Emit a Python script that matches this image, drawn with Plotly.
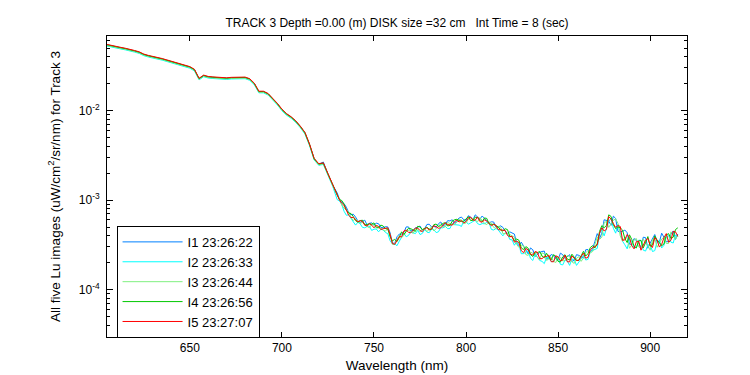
import plotly.graph_objects as go

# Wavelength (nm), main grid
wavelength = [
    605.0, 607.5, 610.0, 612.5, 615.0, 617.5, 620.0, 622.5, 625.0, 627.5,
    630.0, 632.5, 635.0, 637.5, 640.0, 642.5, 645.0, 647.5, 650.0, 652.5,
    655.0, 657.5, 660.0, 662.5, 665.0, 667.5, 670.0, 672.5, 675.0, 677.5,
    680.0, 682.5, 685.0, 687.5, 690.0, 692.5, 695.0, 697.5, 700.0, 702.5,
    705.0, 707.5, 710.0, 712.5, 715.0, 717.5, 720.0, 722.5, 725.0, 727.5,
    730.0, 732.5, 735.0, 737.5, 740.0, 742.5, 745.0, 747.5, 750.0, 752.5,
    755.0, 757.5, 760.0, 762.5, 765.0, 767.5, 770.0, 772.5, 775.0, 777.5,
    780.0, 782.5, 785.0, 787.5, 790.0, 792.5, 795.0, 797.5, 800.0, 802.5,
    805.0, 807.5, 810.0, 812.5, 815.0, 817.5, 820.0, 822.5, 825.0, 827.5,
    830.0, 832.5, 835.0, 837.5, 840.0, 842.5, 845.0, 847.5, 850.0, 852.5,
    855.0, 857.5, 860.0, 862.5, 865.0, 867.5, 870.0, 872.5, 875.0, 877.5,
    880.0, 882.5, 885.0, 887.5, 890.0, 892.5, 895.0, 897.5, 900.0, 902.5,
    905.0, 907.5, 910.0, 912.5, 915.0,
]
# extra (noisy red/NIR part) wavelengths between the main grid points
wavelength_mid = [
    731.25, 733.75, 736.25, 738.75, 741.25, 743.75, 746.25, 748.75, 751.25, 753.75,
    756.25, 758.75, 761.25, 763.75, 766.25, 768.75, 771.25, 773.75, 776.25, 778.75,
    781.25, 783.75, 786.25, 788.75, 791.25, 793.75, 796.25, 798.75, 801.25, 803.75,
    806.25, 808.75, 811.25, 813.75, 816.25, 818.75, 821.25, 823.75, 826.25, 828.75,
    831.25, 833.75, 836.25, 838.75, 841.25, 843.75, 846.25, 848.75, 851.25, 853.75,
    856.25, 858.75, 861.25, 863.75, 866.25, 868.75, 871.25, 873.75, 876.25, 878.75,
    881.25, 883.75, 886.25, 888.75, 891.25, 893.75, 896.25, 898.75, 901.25, 903.75,
    906.25, 908.75, 911.25, 913.75,
]

# log10 of Lu (uW/cm^2/sr/nm)
log_lu_I1 = [
    -1.267, -1.280, -1.290, -1.300, -1.310, -1.320, -1.335, -1.350, -1.375, -1.390,
    -1.400, -1.410, -1.425, -1.440, -1.455, -1.470, -1.485, -1.500, -1.515, -1.545,
    -1.645, -1.610, -1.625, -1.630, -1.635, -1.640, -1.640, -1.635, -1.632, -1.630,
    -1.632, -1.650, -1.700, -1.790, -1.790, -1.815, -1.865, -1.925, -1.990, -2.040,
    -2.075, -2.120, -2.180, -2.250, -2.380, -2.540, -2.600, -2.575, -2.710, -2.830,
    -2.920, -3.025, -3.080, -3.165, -3.190, -3.250, -3.225, -3.260, -3.280, -3.265,
    -3.310, -3.300, -3.480, -3.410, -3.380, -3.300, -3.345, -3.310, -3.290, -3.320,
    -3.270, -3.295, -3.265, -3.290, -3.230, -3.220, -3.235, -3.190, -3.225, -3.190,
    -3.165, -3.215, -3.205, -3.255, -3.245, -3.300, -3.305, -3.375, -3.370, -3.480,
    -3.470, -3.555, -3.535, -3.630, -3.585, -3.570, -3.650, -3.620, -3.670, -3.610,
    -3.635, -3.685, -3.610, -3.635, -3.555, -3.580, -3.460, -3.430, -3.220, -3.235,
    -3.180, -3.350, -3.350, -3.365, -3.495, -3.455, -3.530, -3.420, -3.480, -3.385,
    -3.470, -3.410, -3.465, -3.345, -3.380,
]
log_lu_I1_mid = [
    -2.990, -3.040, -3.140, -3.158, -3.233, -3.235, -3.280, -3.255, -3.258, -3.305,
    -3.298, -3.365, -3.485, -3.380, -3.360, -3.300, -3.338, -3.303, -3.333, -3.273,
    -3.300, -3.303, -3.245, -3.273, -3.233, -3.260, -3.200, -3.220, -3.175, -3.220,
    -3.193, -3.178, -3.240, -3.243, -3.303, -3.288, -3.345, -3.355, -3.380, -3.510,
    -3.513, -3.603, -3.555, -3.608, -3.575, -3.660, -3.608, -3.658, -3.593, -3.655,
    -3.610, -3.673, -3.618, -3.648, -3.553, -3.545, -3.375, -3.370, -3.228, -3.283,
    -3.205, -3.355, -3.335, -3.493, -3.430, -3.478, -3.415, -3.538, -3.425, -3.468,
    -3.370, -3.465, -3.385, -3.440,
]
log_lu_I2 = [
    -1.279, -1.292, -1.302, -1.312, -1.322, -1.332, -1.347, -1.362, -1.387, -1.402,
    -1.412, -1.422, -1.437, -1.452, -1.467, -1.482, -1.497, -1.512, -1.527, -1.557,
    -1.657, -1.622, -1.637, -1.642, -1.647, -1.652, -1.652, -1.647, -1.644, -1.642,
    -1.644, -1.662, -1.712, -1.802, -1.802, -1.827, -1.877, -1.937, -2.002, -2.052,
    -2.087, -2.132, -2.192, -2.262, -2.392, -2.552, -2.612, -2.602, -2.722, -2.842,
    -2.995, -3.050, -3.170, -3.205, -3.280, -3.265, -3.310, -3.290, -3.325, -3.355,
    -3.335, -3.375, -3.490, -3.510, -3.415, -3.410, -3.355, -3.375, -3.385, -3.330,
    -3.365, -3.330, -3.355, -3.310, -3.320, -3.260, -3.280, -3.295, -3.240, -3.255,
    -3.225, -3.275, -3.265, -3.255, -3.335, -3.335, -3.400, -3.380, -3.445, -3.465,
    -3.600, -3.580, -3.650, -3.600, -3.675, -3.710, -3.650, -3.685, -3.645, -3.725,
    -3.680, -3.660, -3.730, -3.650, -3.670, -3.575, -3.555, -3.375, -3.400, -3.240,
    -3.315, -3.270, -3.460, -3.545, -3.465, -3.530, -3.450, -3.570, -3.495, -3.565,
    -3.455, -3.505, -3.395, -3.480, -3.410,
]
log_lu_I2_mid = [
    -3.010, -3.125, -3.165, -3.238, -3.248, -3.305, -3.295, -3.340, -3.323, -3.325,
    -3.363, -3.455, -3.490, -3.460, -3.370, -3.395, -3.363, -3.338, -3.373, -3.358,
    -3.325, -3.363, -3.310, -3.293, -3.318, -3.275, -3.280, -3.230, -3.270, -3.235,
    -3.263, -3.263, -3.250, -3.328, -3.318, -3.368, -3.365, -3.440, -3.505, -3.500,
    -3.598, -3.568, -3.675, -3.633, -3.685, -3.635, -3.688, -3.638, -3.718, -3.670,
    -3.730, -3.663, -3.693, -3.618, -3.663, -3.565, -3.540, -3.330, -3.328, -3.203,
    -3.370, -3.360, -3.500, -3.433, -3.535, -3.448, -3.560, -3.503, -3.575, -3.463,
    -3.535, -3.415, -3.470, -3.390,
]
log_lu_I3 = [
    -1.273, -1.286, -1.296, -1.306, -1.316, -1.326, -1.341, -1.356, -1.381, -1.396,
    -1.406, -1.416, -1.431, -1.446, -1.461, -1.476, -1.491, -1.506, -1.521, -1.551,
    -1.651, -1.616, -1.631, -1.636, -1.641, -1.646, -1.646, -1.641, -1.638, -1.636,
    -1.638, -1.656, -1.706, -1.796, -1.796, -1.821, -1.871, -1.931, -1.996, -2.046,
    -2.081, -2.126, -2.186, -2.256, -2.386, -2.546, -2.606, -2.596, -2.716, -2.836,
    -2.950, -3.055, -3.110, -3.195, -3.210, -3.260, -3.265, -3.310, -3.280, -3.310,
    -3.335, -3.315, -3.495, -3.440, -3.420, -3.345, -3.350, -3.315, -3.355, -3.315,
    -3.325, -3.345, -3.280, -3.300, -3.250, -3.275, -3.245, -3.220, -3.255, -3.210,
    -3.225, -3.195, -3.260, -3.245, -3.305, -3.295, -3.375, -3.370, -3.400, -3.495,
    -3.505, -3.610, -3.580, -3.610, -3.665, -3.600, -3.660, -3.685, -3.635, -3.680,
    -3.620, -3.690, -3.650, -3.685, -3.590, -3.590, -3.495, -3.440, -3.255, -3.305,
    -3.225, -3.260, -3.460, -3.425, -3.500, -3.430, -3.535, -3.480, -3.560, -3.425,
    -3.475, -3.415, -3.485, -3.390, -3.390,
]
log_lu_I3_mid = [
    -2.980, -3.090, -3.135, -3.228, -3.238, -3.250, -3.295, -3.270, -3.313, -3.310,
    -3.348, -3.385, -3.495, -3.400, -3.395, -3.340, -3.373, -3.323, -3.328, -3.353,
    -3.300, -3.318, -3.265, -3.298, -3.263, -3.275, -3.220, -3.265, -3.215, -3.205,
    -3.243, -3.228, -3.275, -3.258, -3.318, -3.303, -3.375, -3.385, -3.415, -3.530,
    -3.513, -3.618, -3.595, -3.643, -3.590, -3.675, -3.638, -3.698, -3.638, -3.675,
    -3.630, -3.708, -3.633, -3.648, -3.563, -3.575, -3.410, -3.415, -3.238, -3.263,
    -3.210, -3.400, -3.415, -3.538, -3.445, -3.523, -3.435, -3.508, -3.440, -3.528,
    -3.435, -3.485, -3.355, -3.440,
]
log_lu_I4 = [
    -1.265, -1.278, -1.288, -1.298, -1.308, -1.318, -1.333, -1.348, -1.373, -1.388,
    -1.398, -1.408, -1.423, -1.438, -1.453, -1.468, -1.483, -1.498, -1.513, -1.543,
    -1.643, -1.608, -1.623, -1.628, -1.633, -1.638, -1.638, -1.633, -1.630, -1.628,
    -1.630, -1.648, -1.698, -1.788, -1.788, -1.813, -1.863, -1.923, -1.988, -2.038,
    -2.073, -2.118, -2.178, -2.248, -2.378, -2.538, -2.598, -2.588, -2.708, -2.828,
    -2.950, -3.005, -3.115, -3.150, -3.230, -3.230, -3.280, -3.265, -3.255, -3.305,
    -3.290, -3.325, -3.455, -3.465, -3.355, -3.345, -3.320, -3.350, -3.300, -3.315,
    -3.325, -3.275, -3.295, -3.260, -3.290, -3.235, -3.215, -3.240, -3.210, -3.230,
    -3.190, -3.215, -3.200, -3.265, -3.270, -3.300, -3.345, -3.330, -3.410, -3.435,
    -3.535, -3.520, -3.610, -3.590, -3.575, -3.645, -3.640, -3.610, -3.685, -3.635,
    -3.660, -3.605, -3.675, -3.625, -3.625, -3.530, -3.535, -3.350, -3.310, -3.165,
    -3.275, -3.300, -3.335, -3.475, -3.440, -3.535, -3.450, -3.475, -3.515, -3.400,
    -3.475, -3.490, -3.375, -3.415, -3.310,
]
log_lu_I4_mid = [
    -2.995, -3.045, -3.145, -3.183, -3.248, -3.225, -3.275, -3.270, -3.303, -3.280,
    -3.318, -3.410, -3.440, -3.415, -3.385, -3.315, -3.338, -3.293, -3.333, -3.303,
    -3.325, -3.268, -3.285, -3.253, -3.283, -3.220, -3.225, -3.235, -3.185, -3.225,
    -3.198, -3.243, -3.205, -3.273, -3.288, -3.333, -3.320, -3.405, -3.455, -3.450,
    -3.553, -3.538, -3.630, -3.588, -3.625, -3.595, -3.668, -3.628, -3.693, -3.610,
    -3.670, -3.638, -3.673, -3.573, -3.598, -3.510, -3.485, -3.285, -3.283, -3.183,
    -3.320, -3.310, -3.430, -3.388, -3.515, -3.458, -3.535, -3.408, -3.500, -3.448,
    -3.510, -3.390, -3.430, -3.330,
]
log_lu_I5 = [
    -1.261, -1.274, -1.284, -1.294, -1.304, -1.314, -1.329, -1.344, -1.369, -1.384,
    -1.394, -1.404, -1.419, -1.434, -1.449, -1.464, -1.479, -1.494, -1.509, -1.539,
    -1.639, -1.604, -1.619, -1.624, -1.629, -1.634, -1.634, -1.629, -1.626, -1.624,
    -1.626, -1.644, -1.694, -1.784, -1.784, -1.809, -1.859, -1.919, -1.984, -2.034,
    -2.069, -2.114, -2.174, -2.244, -2.374, -2.534, -2.594, -2.584, -2.704, -2.824,
    -2.935, -3.035, -3.110, -3.195, -3.220, -3.230, -3.280, -3.265, -3.310, -3.295,
    -3.320, -3.310, -3.485, -3.445, -3.410, -3.335, -3.365, -3.315, -3.340, -3.320,
    -3.335, -3.285, -3.315, -3.275, -3.275, -3.280, -3.225, -3.230, -3.240, -3.190,
    -3.225, -3.240, -3.220, -3.260, -3.270, -3.330, -3.330, -3.395, -3.405, -3.460,
    -3.565, -3.540, -3.605, -3.575, -3.655, -3.630, -3.615, -3.690, -3.635, -3.670,
    -3.690, -3.625, -3.675, -3.625, -3.650, -3.555, -3.520, -3.370, -3.345, -3.185,
    -3.265, -3.285, -3.450, -3.385, -3.510, -3.465, -3.560, -3.450, -3.505, -3.420,
    -3.525, -3.420, -3.470, -3.350, -3.405,
]
log_lu_I5_mid = [
    -3.000, -3.060, -3.170, -3.193, -3.243, -3.240, -3.290, -3.280, -3.283, -3.330,
    -3.313, -3.385, -3.495, -3.410, -3.345, -3.360, -3.343, -3.313, -3.353, -3.308,
    -3.325, -3.298, -3.310, -3.253, -3.278, -3.240, -3.245, -3.255, -3.200, -3.225,
    -3.188, -3.248, -3.235, -3.288, -3.283, -3.333, -3.340, -3.410, -3.470, -3.475,
    -3.588, -3.558, -3.615, -3.583, -3.655, -3.630, -3.688, -3.623, -3.678, -3.615,
    -3.690, -3.653, -3.673, -3.593, -3.638, -3.530, -3.500, -3.310, -3.328, -3.213,
    -3.305, -3.295, -3.445, -3.418, -3.545, -3.458, -3.500, -3.428, -3.530, -3.448,
    -3.495, -3.375, -3.450, -3.355,
]

series_names = ["I1 23:26:22", "I2 23:26:33", "I3 23:26:44", "I4 23:26:56", "I5 23:27:07"]
series_logs = [log_lu_I1, log_lu_I2, log_lu_I3, log_lu_I4, log_lu_I5]
series_logs_mid = [log_lu_I1_mid, log_lu_I2_mid, log_lu_I3_mid, log_lu_I4_mid, log_lu_I5_mid]
series_colors = ["#0080FF", "#00FFFF", "#80F080", "#00C800", "#FF0000"]

y_tickvals = [1e-4, 1e-3, 1e-2]
y_ticktext = ["10<sup>-4</sup>", "10<sup>-3</sup>", "10<sup>-2</sup>"]
y_minor = [3e-5, 4e-5, 5e-5, 6e-5, 7e-5, 8e-5, 9e-5,
           2e-4, 3e-4, 4e-4, 5e-4, 6e-4, 7e-4, 8e-4, 9e-4,
           2e-3, 3e-3, 4e-3, 5e-3, 6e-3, 7e-3, 8e-3, 9e-3,
           2e-2, 3e-2, 4e-2, 5e-2, 6e-2]
x_tickvals = [650, 700, 750, 800, 850, 900]

NARROW = "Liberation Sans Narrow, Arial Narrow, Liberation Sans, Arial, sans-serif"
REG = "Liberation Sans, Arial, sans-serif"

fig = go.Figure()
for name, logs, logs_mid, color in zip(series_names, series_logs, series_logs_mid, series_colors):
    pts = sorted(zip(wavelength + wavelength_mid, logs + logs_mid))
    fig.add_trace(go.Scatter(
        x=[p[0] for p in pts], y=[10 ** p[1] for p in pts], mode="lines", name=name,
        line=dict(color=color, width=1),
    ))

fig.update_layout(
    width=750, height=375,
    margin=dict(l=99, r=71, t=28, b=44),
    paper_bgcolor="white", plot_bgcolor="white",
    font=dict(family=REG, size=13, color="black"),
    title=dict(
        text="TRACK 3 Depth =0.00 (m) DISK size =32 cm\u00a0\u00a0\u00a0Int Time = 8 (sec)",
        font=dict(family=NARROW, size=12, color="black"),
        x=0.5, xref="paper", xanchor="center",
        y=1 - 15 / 375, yref="container", yanchor="middle",
    ),
    xaxis=dict(
        range=[605, 920], tickmode="array", tickvals=x_tickvals,
        ticks="inside", ticklen=5, tickcolor="black",
        showline=True, linecolor="black", linewidth=1, mirror="ticks",
        showgrid=False, zeroline=False,
        tickfont=dict(family=NARROW, size=12),
        title=dict(text="Wavelength (nm)", font=dict(family=REG, size=13.5), standoff=6),
    ),
    yaxis=dict(
        type="log", range=[-4.53, -1.167], tickmode="array",
        tickvals=y_tickvals, ticktext=y_ticktext,
        ticks="inside", ticklen=6, tickcolor="black", ticklabelstandoff=4,
        minor=dict(tickmode="array", tickvals=y_minor, ticks="inside", ticklen=3, tickcolor="black"),
        showline=True, linecolor="black", linewidth=1, mirror="ticks",
        showgrid=False, zeroline=False,
        tickfont=dict(family=REG, size=12),
        title=dict(text="All five Lu images (uW/cm<sup>2</sup>/sr/nm) for Track 3",
                   font=dict(family=REG, size=13.5), standoff=15),
    ),
    legend=dict(
        x=0.0165, y=0.369, xanchor="left", yanchor="top",
        bgcolor="white", bordercolor="black", borderwidth=1,
        font=dict(family=REG, size=13), itemwidth=60,
    ),
    showlegend=True,
)

fig.write_html("out.html")
